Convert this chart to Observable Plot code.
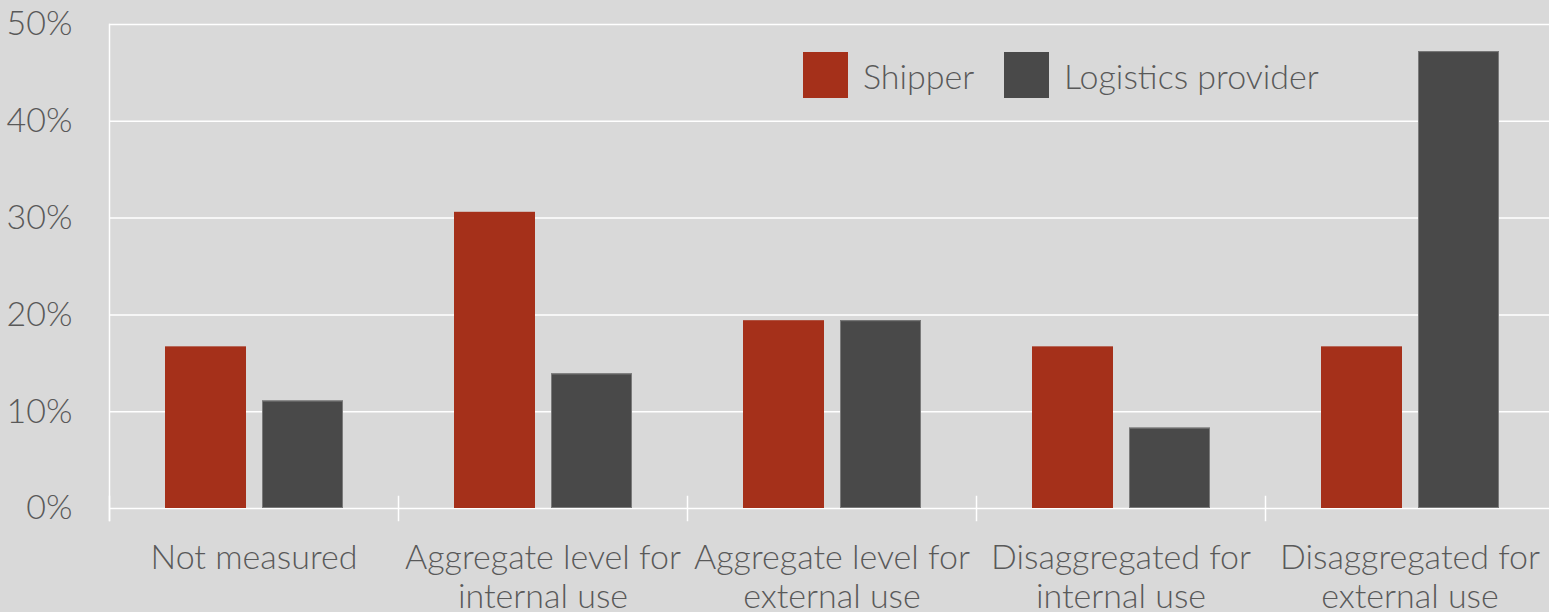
<!DOCTYPE html>
<html>
<head>
<meta charset="utf-8">
<script src="https://cdn.jsdelivr.net/npm/d3@7"></script>
<script src="https://cdn.jsdelivr.net/npm/@observablehq/plot@0.6"></script>
<style>
  html, body { margin: 0; padding: 0; background: #d9d9d9; overflow: hidden; }
  #chart { position: relative; width: 1549px; height: 612px; overflow: hidden; }
  #chart svg { position: absolute; left: 0; top: 0; max-width: none; }
  .legend-item {
    position: absolute; top: 52px; display: flex; align-items: center;
    font-family: Lato, "Open Sans", sans-serif; font-weight: 300; font-size: 34px; color: #595959;
  }
  .legend-item .swatch { width: 45px; height: 46px; margin-right: 15px; }
</style>
</head>
<body>
<div id="chart"></div>
<script>
// Share of respondents by level of emissions measurement
const categories = [
  "Not measured",
  "Aggregate level for\ninternal use",
  "Aggregate level for\nexternal use",
  "Disaggregated for\ninternal use",
  "Disaggregated for\nexternal use"
];
const series = ["Shipper", "Logistics provider"];
const shipper = [0.167, 0.306, 0.194, 0.167, 0.167];
const logistics = [0.111, 0.139, 0.194, 0.083, 0.472];
const colors = ["#a5301a", "#494949"];
const yTicks = [0, 0.1, 0.2, 0.3, 0.4, 0.5];

const rows = categories.flatMap((c, i) => [
  {category: c, series: series[0], value: shipper[i]},
  {category: c, series: series[1], value: logistics[i]}
]);

const FONT = 'Lato, "Open Sans", sans-serif';

const chart = Plot.plot({
  width: 1554,
  height: 612,
  marginTop: 24,
  marginBottom: 104,
  marginLeft: 109,
  marginRight: 0,
  style: {background: "transparent", fontFamily: FONT, fontSize: "34px", fontWeight: 300, color: "#595959", overflow: "visible", maxWidth: "none"},
  fx: {domain: categories, padding: 0, label: null},
  x: {domain: series, paddingInner: 0.165, paddingOuter: 0.572, axis: null},
  y: {domain: [0, 0.5], label: null},
  color: {domain: series, range: colors},
  marks: [
    Plot.gridY(yTicks, {stroke: "white", strokeOpacity: 1, strokeWidth: 1.5}),
    // short separators between categories
    Plot.frame({anchor: "left", stroke: "white", strokeWidth: 1.5, insetTop: 472, insetBottom: -12}),
    // full-height axis line on the left
    Plot.frame({anchor: "left", stroke: "white", strokeWidth: 1.5, insetBottom: -12, facetAnchor: "left"}),
    Plot.barY(rows, {fx: "category", x: "series", y: "value", fill: "series"}),
    Plot.barY(rows.filter(d => d.series === series[1]), {
      fx: "category", x: "series", y: "value", fill: null, stroke: "#7a7a7a", strokeWidth: 1, inset: 0.5
    }),
    Plot.axisY({ticks: yTicks, tickFormat: d3.format(".0%"), tickSize: 0, tickPadding: 37, label: null, fill: "#595959"}),
    Plot.axisFx({anchor: "bottom", tickSize: 0, tickPadding: 33, label: null, lineHeight: 1.15, fill: "#595959"})
  ]
});

const root = document.getElementById("chart");
root.appendChild(chart);

// legend
const legendLeft = [803, 1004];
series.forEach((s, i) => {
  const item = document.createElement("div");
  item.className = "legend-item";
  item.style.left = legendLeft[i] + "px";
  const sw = document.createElement("span");
  sw.className = "swatch";
  sw.style.background = colors[i];
  const label = document.createElement("span");
  label.textContent = s;
  item.append(sw, label);
  root.appendChild(item);
});
</script>
</body>
</html>
